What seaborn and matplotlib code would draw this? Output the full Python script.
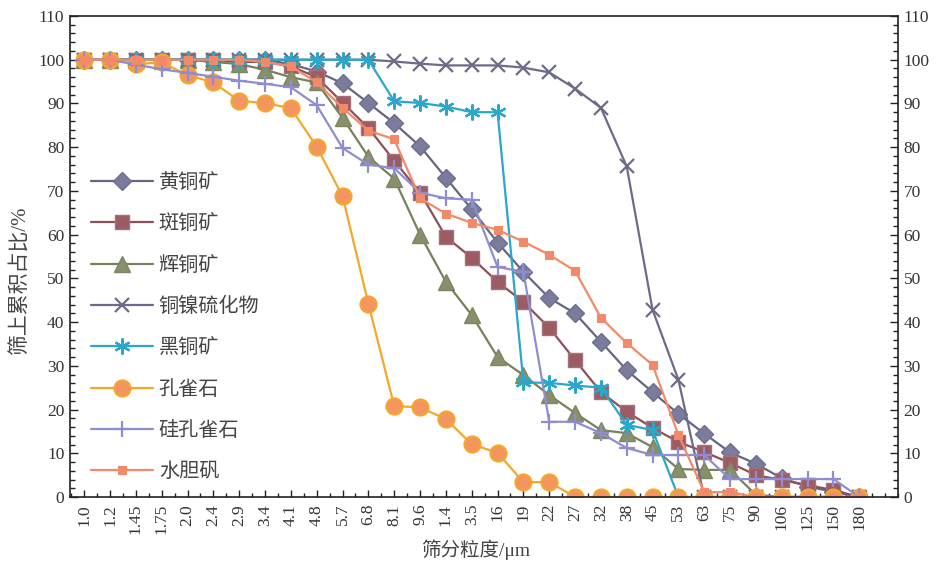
import matplotlib
matplotlib.use("Agg")
import matplotlib.pyplot as plt
from matplotlib.ticker import MultipleLocator
import seaborn as sns
import pandas as pd

# Sieve size classes (µm) and cumulative oversize (%) per mineral
sizes = ["1.0", "1.2", "1.45", "1.75", "2.0", "2.4", "2.9", "3.4", "4.1", "4.8",
         "5.7", "6.8", "8.1", "9.6", "1.4", "3.5", "16", "19", "22", "27", "32",
         "38", "45", "53", "63", "75", "90", "106", "125", "150", "180"]

chalcopyrite = [100, 100, 100, 100, 100, 100, 100, 100, 99, 97.3, 94.6, 90.1, 85.5,
                80.2, 73, 65.8, 58.2, 51.5, 45.5, 42, 35.5, 29, 24, 19, 14.5, 10.2,
                7.6, 4.3, 2.4, 1.2, 0]
bornite = [100, 100, 100, 100, 100, 100, 99.5, 99.5, 98.5, 96, 90.2, 84.4, 76.9,
           69.6, 59.5, 54.7, 49.2, 44.6, 38.7, 31.3, 24, 19.5, 15.8, 12.6, 10.3, 7.8,
           5, 3.9, 2.7, 1.6, 0]
chalcocite = [100, 100, 100, 100, 100, 99.5, 99, 97.7, 96, 94.8, 86.7, 77.8, 72.8,
              60, 49.2, 41.6, 32, 27.9, 23.3, 19.2, 15.3, 14.6, 11.4, 6.4, 6.2, 6.2,
              0.5, 0, 0, 0, 0]
cu_ni_sulfide = [100, 100, 100, 100, 100, 100, 100, 100, 100, 100, 100, 100, 99.6,
                 99.1, 98.7, 98.7, 98.7, 98.2, 97.1, 93.4, 89, 75.6, 42.8, 26.8, 0,
                 0, 0, 0, 0, 0, 0]
tenorite = [100, 100, 100, 100, 100, 100, 100, 100, 100, 100, 100, 100, 90.5, 90.1,
            89.3, 88, 88, 26.2, 26.1, 25.5, 25, 16.5, 15.3, 0, 0, 0, 0, 0, 0, 0, 0]
malachite = [100, 100, 99, 99.4, 96.5, 94.8, 90.6, 90.1, 88.9, 80.1, 68.8, 44.2,
             20.8, 20.5, 17.8, 12.1, 10.1, 3.4, 3.4, 0, 0, 0, 0, 0, 0, 0, 0, 0, 0,
             0, 0]
chrysocolla = [100, 100, 98.9, 97.8, 97, 96.1, 95.2, 94.5, 93.7, 89.6, 79.8, 76,
               75.2, 69.6, 68.3, 68, 52.6, 51.5, 17.2, 17.2, 14.6, 11.2, 9.6, 9.6,
               9.6, 4.1, 4.1, 4.1, 4.1, 4.1, 0]
brochantite = [100, 100, 100, 100, 100, 100, 100, 99.5, 98.5, 94.8, 89, 83.8, 81.8,
               68.3, 64.8, 62.7, 61.1, 58.4, 55.4, 51.7, 41, 35.2, 30.2, 14.2, 1.1,
               1.1, 0, 0, 0, 0, 0]

names = ["黄铜矿", "斑铜矿", "辉铜矿", "铜镍硫化物", "黑铜矿", "孔雀石", "硅孔雀石", "水胆矾"]
series = [chalcopyrite, bornite, chalcocite, cu_ni_sulfide, tenorite, malachite,
          chrysocolla, brochantite]

styles = [
    dict(color="#66667e", marker="D", markersize=9, markerfacecolor="#7b7b9b",
         markeredgecolor="#6e6e8e", markeredgewidth=1.0),
    dict(color="#8e4f5a", marker="s", markersize=10.5, markerfacecolor="#9c5c64",
         markeredgecolor="#a5707a", markeredgewidth=1.0),
    dict(color="#75825a", marker="^", markersize=11, markerfacecolor="#87906a",
         markeredgecolor="#7d8660", markeredgewidth=1.0),
    dict(color="#6c6c88", marker="x", markersize=10.5, markeredgecolor="#6c6c88",
         markeredgewidth=1.6),
    dict(color="#2aa7c9", marker=(6, 2, 0), markersize=11.5, markeredgecolor="#2aa7c9",
         markeredgewidth=1.6),
    dict(color="#f4a72a", marker="o", markersize=11.5, markerfacecolor="#f39560",
         markeredgecolor="#f5a62b", markeredgewidth=1.6),
    dict(color="#8f8dd2", marker="+", markersize=11.5, markeredgecolor="#8f8dd2",
         markeredgewidth=1.6),
    dict(color="#f28a6a", marker="s", markersize=5.5, markerfacecolor="#f28a6a",
         markeredgecolor="#f28a6a", markeredgewidth=0.8),
]

sns.set_theme(style="ticks")
plt.rcParams["font.family"] = ["Liberation Serif", "Noto Sans CJK SC", "DejaVu Sans"]
plt.rcParams["axes.linewidth"] = 1.2

fig = plt.figure(figsize=(9.39, 5.63), dpi=100)
ax = fig.add_axes([70 / 939, 1 - 497 / 563, (898 - 70) / 939, (497 - 16) / 563])

pos = list(range(len(sizes)))
handles = []
for name, vals, st in zip(names, series, styles):
    df = pd.DataFrame({"size": pos, "value": vals})
    sns.lineplot(data=df, x="size", y="value", ax=ax, linewidth=1.6,
                 estimator=None, sort=False, **st)
    handles.append(ax.lines[-1])

ax.set_xlim(-0.55, 31.5)
ax.set_ylim(0, 110)
ax.set_xticks(pos)
ax.set_xticklabels(sizes, rotation=90, fontsize=12.5)
ax.xaxis.set_minor_locator(MultipleLocator(0.5))
ax.yaxis.set_major_locator(MultipleLocator(10))
ax.yaxis.set_minor_locator(MultipleLocator(2))
ax.tick_params(axis="x", which="both", direction="in", top=False, bottom=True,
               colors="#222222", labelcolor="#333333")
ax.tick_params(axis="x", which="major", length=5, width=1.0, pad=5)
ax.tick_params(axis="x", which="minor", length=3, width=1.0)
ax.tick_params(axis="y", which="both", direction="in", left=True, right=True,
               labelleft=True, labelright=True, colors="#222222", labelcolor="#333333")
ax.tick_params(axis="y", which="major", length=6, width=1.0, labelsize=12.5, pad=4)
ax.tick_params(axis="y", which="minor", length=3.5, width=1.0)
for sp in ax.spines.values():
    sp.set_visible(True)
    sp.set_color("#222222")

ax.set_xlabel("筛分粒度/μm", fontsize=14, color="#444444")
ax.set_ylabel("筛上累积占比/%", fontsize=15, color="#444444")
ax.xaxis.set_label_coords(0.49, -0.088)
ax.yaxis.set_label_coords(-0.047, 0.45)

leg = ax.legend(handles, names, loc="upper left", bbox_to_anchor=(0.016, 0.688),
                frameon=False, fontsize=14.5, handlelength=3.05, handletextpad=0.3,
                labelspacing=1.1, borderaxespad=0)
for t in leg.get_texts():
    t.set_color("#444444")

fig.savefig("out.png", dpi=100)
